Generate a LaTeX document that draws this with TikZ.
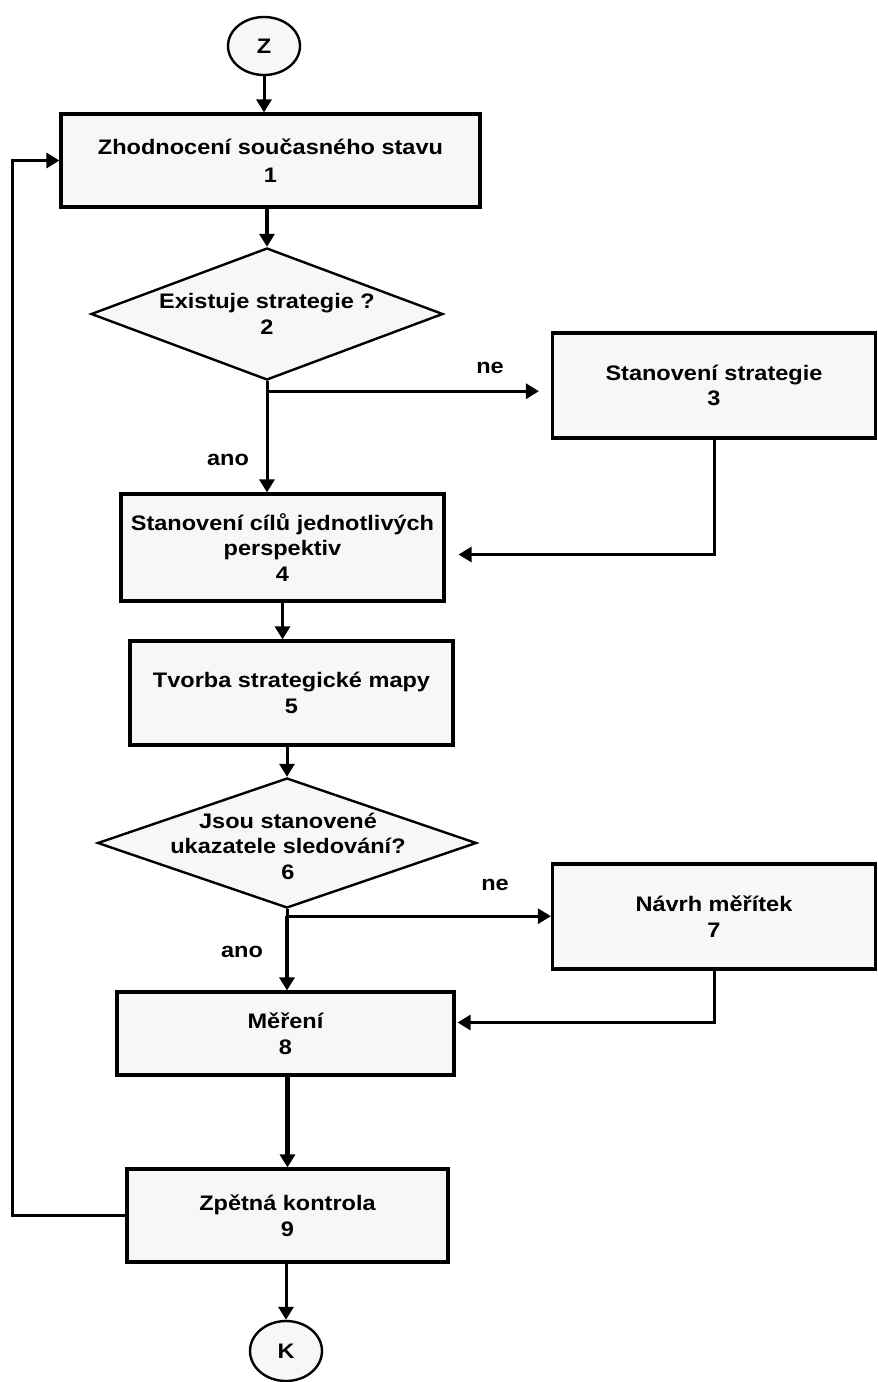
\documentclass[tikz,border=0pt]{standalone}
\usepackage{fontspec}
\setmainfont{Liberation Sans}[FakeStretch=1.12]
\usetikzlibrary{arrows.meta,shapes.geometric}
\definecolor{boxfill}{HTML}{F7F7F7}
\begin{document}
\begin{tikzpicture}[x=1pt,y=-1pt,
  every node/.style={font=\fontsize{21}{25.5}\selectfont\bfseries, align=center},
  stepbox/.style={draw, fill=boxfill, line width=3.2pt, inner sep=0pt},
  decision/.style={diamond, draw, fill=boxfill, line width=2.4pt, inner sep=0pt},
  terminal/.style={ellipse, draw, fill=boxfill, line width=2.4pt, inner sep=0pt,
                   minimum width=72pt, minimum height=58pt},
  flow/.style={line width=3pt, -{Triangle[width=15pt,length=13pt]}},
  heavy/.style={flow, line width=4.6pt},
  plainline/.style={line width=3pt},
]
\useasboundingbox (0,0) rectangle (878,1382);

% terminals
\node (z) [terminal] at (264,46) {Z};
\node (k) [terminal, minimum height=60pt] at (286,1351) {K};

% process steps
\node (b1) [stepbox, minimum width=419pt, minimum height=93pt] at (270.5,160.5)
  {Zhodnocení současného stavu\\[2pt]1};
\node (b3) [stepbox, minimum width=323pt, minimum height=105pt] at (714,385.5)
  {Stanovení strategie\\3};
\node (b4) [stepbox, minimum width=323pt, minimum height=107pt] at (282.5,547.5)
  {Stanovení cílů jednotlivých\\perspektiv\\4};
\node (b5) [stepbox, minimum width=323pt, minimum height=104pt] at (291.5,693)
  {Tvorba strategické mapy\\5};
\node (b7) [stepbox, minimum width=323pt, minimum height=105pt] at (714,916.5)
  {Návrh měřítek\\7};
\node (b8) [stepbox, minimum width=337pt, minimum height=83pt] at (285.5,1033.5)
  {Měření\\8};
\node (b9) [stepbox, minimum width=321pt, minimum height=93pt] at (287.5,1215.5)
  {Zpětná kontrola\\9};

% decisions
\node (d2) [decision, minimum width=352pt, minimum height=132pt] at (267,314) {};
\node (d2t) at (d2) {Existuje strategie ?\\2};
\node (d6) [decision, minimum width=379pt, minimum height=130pt] at (287,843) {};
\node (d6t) at (288,846) {Jsou stanovené\\ukazatele sledování?\\6};

% branch labels
\node (ne1) at (490,368) {ne};
\node (ano1) at (228,460) {ano};
\node (ne2) at (495,885) {ne};
\node (ano2) at (242,952) {ano};

% main flow
\draw[flow] (z.south) -- (z.south |- b1.north);
\draw[heavy] (d2.north |- b1.south) -- (d2.north);

\draw[plainline] (d2.south) -- ++(0,10) coordinate (j1);
\draw[flow] (j1) -- ([xshift=-12pt]b3.west |- j1);
\draw[flow] (j1) -- (j1 |- b4.north);
\draw[flow] (b3.south) |- ([xshift=13pt,yshift=-7pt]b4.east);

\draw[flow] (b4.south) -- (b4.south |- b5.north);
\draw[flow] (d6.north |- b5.south) -- (d6.north);

\draw[plainline] (d6.south) -- ++(0,7) coordinate (j2);
\draw[flow] (j2) -- (b7.west |- j2);
\draw[heavy] (j2) -- (j2 |- b8.north);
\draw[flow] (b7.south) |- ([xshift=2pt,yshift=11pt]b8.east);

\draw[heavy] (b9.north |- b8.south) -- (b9.north);
\draw[flow] (b9.south -| k.north) -- (k.north);

% feedback loop
\coordinate (lp) at (12,1215.5);
\draw[flow] (b9.west) -- (lp) |- (b1.west);
\end{tikzpicture}
\end{document}
